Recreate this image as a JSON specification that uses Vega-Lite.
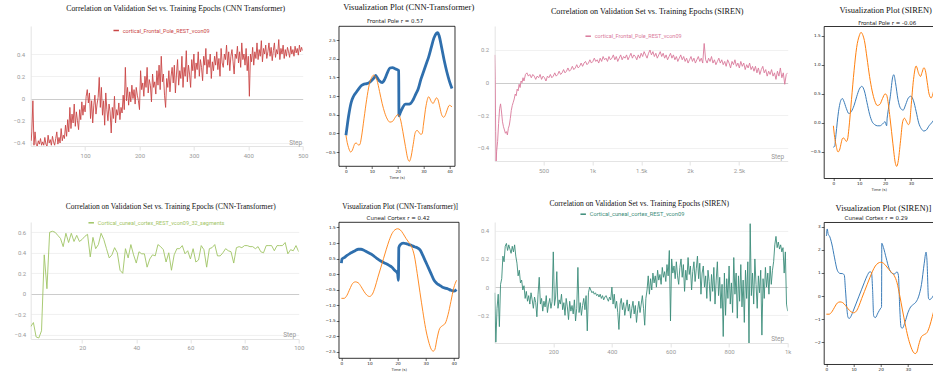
{
"$schema": "https://vega.github.io/schema/vega-lite/v6.json",
"padding": {"left": 12.7, "top": 2, "right": 0, "bottom": 0},
"columns": 4,
"bounds": "flush",
"align": "each",
"spacing": {"row": 44, "column": 36},
"resolve": {"scale": {"color": "independent"}, "legend": {"color": "independent"}},
"config": {
  "view": {"stroke": null},
  "font": "Roboto",
  "title": {"font": "Liberation Serif", "fontWeight": "normal", "color": "#111111", "frame": "group", "anchor": "middle"},
  "axis": {"labelFlush": false, "labelOverlap": false}
},
"datasets": {
"p1": [{"x":1,"y":-0.38},{"x":2,"y":-0.3},{"x":4,"y":-0.02},{"x":6,"y":-0.42},{"x":8,"y":-0.3},{"x":10,"y":-0.41},{"x":12,"y":-0.43},{"x":14,"y":-0.38},{"x":16,"y":-0.41},{"x":18,"y":-0.36},{"x":20,"y":-0.42},
{"x":22,"y":-0.39},{"x":24,"y":-0.42},{"x":26,"y":-0.35},{"x":28,"y":-0.41},{"x":30,"y":-0.43},{"x":32,"y":-0.33},{"x":34,"y":-0.4},{"x":36,"y":-0.37},{"x":38,"y":-0.42},{"x":40,"y":-0.34},
{"x":42,"y":-0.39},{"x":44,"y":-0.42},{"x":46,"y":-0.36},{"x":48,"y":-0.3},{"x":50,"y":-0.41},{"x":52,"y":-0.35},{"x":54,"y":-0.4},{"x":56,"y":-0.27},{"x":58,"y":-0.38},{"x":60,"y":-0.33},
{"x":62,"y":-0.36},{"x":64,"y":-0.24},{"x":66,"y":-0.34},{"x":68,"y":-0.19},{"x":70,"y":-0.3},{"x":72,"y":-0.08},{"x":74,"y":-0.27},{"x":76,"y":-0.14},{"x":78,"y":-0.22},{"x":80,"y":-0.05},
{"x":82,"y":-0.25},{"x":84,"y":-0.12},{"x":86,"y":-0.2},{"x":88,"y":-0.28},{"x":90,"y":-0.1},{"x":92,"y":-0.19},{"x":94,"y":-0.03},{"x":96,"y":-0.15},{"x":98,"y":-0.06},{"x":100,"y":-0.12},
{"x":102,"y":0.02},{"x":104,"y":0.08},{"x":106,"y":-0.04},{"x":108,"y":0.05},{"x":110,"y":-0.18},{"x":112,"y":-0.02},{"x":114,"y":-0.22},{"x":116,"y":-0.06},{"x":118,"y":0.03},{"x":120,"y":-0.14},
{"x":122,"y":-0.05},{"x":124,"y":0.01},{"x":126,"y":0.19},{"x":128,"y":-0.08},{"x":130,"y":0.1},{"x":132,"y":-0.15},{"x":134,"y":-0.02},{"x":136,"y":-0.24},{"x":138,"y":0.05},{"x":140,"y":-0.1},
{"x":142,"y":-0.2},{"x":144,"y":-0.05},{"x":146,"y":-0.12},{"x":148,"y":-0.31},{"x":150,"y":-0.08},{"x":152,"y":-0.18},{"x":154,"y":0.02},{"x":156,"y":-0.22},{"x":158,"y":-0.1},{"x":160,"y":-0.15},
{"x":162,"y":-0.04},{"x":164,"y":-0.19},{"x":166,"y":-0.08},{"x":168,"y":-0.13},{"x":170,"y":0.03},{"x":172,"y":-0.1},{"x":174,"y":0.28},{"x":176,"y":-0.02},{"x":178,"y":0.1},{"x":180,"y":-0.06},
{"x":182,"y":0.06},{"x":184,"y":-0.03},{"x":186,"y":0.12},{"x":188,"y":0.0},{"x":190,"y":0.08},{"x":192,"y":-0.05},{"x":194,"y":0.1},{"x":196,"y":0.03},{"x":198,"y":-0.02},{"x":200,"y":-0.1},
{"x":202,"y":0.25},{"x":204,"y":0.08},{"x":206,"y":0.14},{"x":208,"y":0.02},{"x":210,"y":0.2},{"x":212,"y":0.1},{"x":214,"y":0.28},{"x":216,"y":0.05},{"x":218,"y":0.17},{"x":220,"y":0.12},
{"x":222,"y":-0.03},{"x":224,"y":0.22},{"x":226,"y":0.1},{"x":228,"y":0.15},{"x":230,"y":0.04},{"x":232,"y":0.25},{"x":234,"y":0.12},{"x":236,"y":0.3},{"x":238,"y":0.08},{"x":240,"y":0.38},
{"x":242,"y":0.15},{"x":244,"y":0.22},{"x":246,"y":0.03},{"x":248,"y":-0.08},{"x":250,"y":0.18},{"x":252,"y":0.1},{"x":254,"y":0.25},{"x":256,"y":0.06},{"x":258,"y":0.2},{"x":260,"y":0.28},
{"x":262,"y":0.14},{"x":264,"y":0.3},{"x":266,"y":0.05},{"x":268,"y":0.22},{"x":270,"y":0.35},{"x":272,"y":0.12},{"x":274,"y":0.25},{"x":276,"y":0.18},{"x":278,"y":0.38},{"x":280,"y":0.1},
{"x":282,"y":0.28},{"x":284,"y":0.2},{"x":286,"y":0.43},{"x":288,"y":0.15},{"x":290,"y":0.3},{"x":292,"y":0.22},{"x":294,"y":0.1},{"x":296,"y":0.35},{"x":298,"y":0.25},{"x":300,"y":0.4},
{"x":302,"y":0.18},{"x":304,"y":0.32},{"x":306,"y":0.26},{"x":308,"y":0.42},{"x":310,"y":0.2},{"x":312,"y":0.35},{"x":314,"y":0.28},{"x":316,"y":0.16},{"x":318,"y":0.38},{"x":320,"y":0.3},
{"x":322,"y":0.45},{"x":324,"y":0.22},{"x":326,"y":0.35},{"x":328,"y":0.28},{"x":330,"y":0.4},{"x":332,"y":0.18},{"x":334,"y":0.33},{"x":336,"y":0.25},{"x":338,"y":0.38},{"x":340,"y":0.3},
{"x":342,"y":0.42},{"x":344,"y":0.26},{"x":346,"y":0.36},{"x":348,"y":0.2},{"x":350,"y":0.45},{"x":352,"y":0.32},{"x":354,"y":0.28},{"x":356,"y":0.4},{"x":358,"y":0.35},{"x":360,"y":0.48},
{"x":362,"y":0.3},{"x":364,"y":0.42},{"x":366,"y":0.25},{"x":368,"y":0.38},{"x":370,"y":0.44},{"x":372,"y":0.33},{"x":374,"y":0.22},{"x":376,"y":0.4},{"x":378,"y":0.36},{"x":380,"y":0.47},
{"x":382,"y":0.32},{"x":384,"y":0.42},{"x":386,"y":0.28},{"x":388,"y":0.5},{"x":390,"y":0.35},{"x":392,"y":0.4},{"x":394,"y":0.3},{"x":396,"y":0.45},{"x":398,"y":0.25},{"x":400,"y":0.38},
{"x":402,"y":0.02},{"x":404,"y":0.4},{"x":406,"y":0.33},{"x":408,"y":0.46},{"x":410,"y":0.3},{"x":412,"y":0.42},{"x":414,"y":0.36},{"x":416,"y":0.5},{"x":418,"y":0.35},{"x":420,"y":0.44},
{"x":422,"y":0.38},{"x":424,"y":0.52},{"x":426,"y":0.33},{"x":428,"y":0.45},{"x":430,"y":0.4},{"x":432,"y":0.48},{"x":434,"y":0.36},{"x":436,"y":0.42},{"x":438,"y":0.5},{"x":440,"y":0.38},
{"x":442,"y":0.46},{"x":444,"y":0.34},{"x":446,"y":0.43},{"x":448,"y":0.5},{"x":450,"y":0.37},{"x":452,"y":0.44},{"x":454,"y":0.4},{"x":456,"y":0.53},{"x":458,"y":0.35},{"x":460,"y":0.45},
{"x":462,"y":0.4},{"x":464,"y":0.48},{"x":466,"y":0.36},{"x":468,"y":0.44},{"x":470,"y":0.38},{"x":472,"y":0.46},{"x":474,"y":0.42},{"x":476,"y":0.37},{"x":478,"y":0.47},{"x":480,"y":0.4},
{"x":482,"y":0.44},{"x":484,"y":0.38},{"x":486,"y":0.47},{"x":488,"y":0.41},{"x":490,"y":0.45},{"x":492,"y":0.39},{"x":494,"y":0.48},{"x":496,"y":0.42},{"x":498,"y":0.46},{"x":500,"y":0.43}],
"p3": [{"x":0,"y":0.17},{"x":5,"y":0.02},{"x":10,"y":-0.3},{"x":15,"y":-0.48},{"x":20,"y":-0.42},{"x":30,"y":-0.36},{"x":40,"y":-0.25},{"x":50,"y":-0.16},{"x":60,"y":-0.13},{"x":70,"y":-0.18},{"x":80,"y":-0.24},{"x":90,"y":-0.27},{"x":100,"y":-0.29},{"x":110,"y":-0.31},{"x":120,"y":-0.3},{"x":130,"y":-0.32},{"x":140,"y":-0.28},{"x":150,"y":-0.26},{"x":160,"y":-0.22},{"x":170,"y":-0.17},{"x":180,"y":-0.14},{"x":190,"y":-0.12},{"x":200,"y":-0.1},{"x":210,"y":-0.07},{"x":220,"y":-0.08},{"x":230,"y":-0.04},{"x":240,"y":-0.05},{"x":250,"y":-0.01},{"x":260,"y":-0.03},{"x":270,"y":0.01},{"x":280,"y":0.0},{"x":290,"y":0.03},{"x":300,"y":0.01},
{"x":315,"y":0.05},{"x":330,"y":0.06},{"x":345,"y":0.04},{"x":360,"y":0.05},{"x":375,"y":0.03},{"x":390,"y":0.05},{"x":405,"y":0.04},{"x":420,"y":0.02},{"x":435,"y":0.04},{"x":450,"y":0.03},{"x":465,"y":0.05},{"x":480,"y":0.02},{"x":495,"y":0.04},{"x":510,"y":0.03},{"x":525,"y":0.01},{"x":540,"y":0.04},{"x":555,"y":0.03},{"x":570,"y":0.05},{"x":585,"y":0.03},{"x":600,"y":0.04},
{"x":615,"y":0.06},{"x":630,"y":0.04},{"x":645,"y":0.05},{"x":660,"y":0.07},{"x":675,"y":0.05},{"x":690,"y":0.06},{"x":705,"y":0.08},{"x":720,"y":0.06},{"x":735,"y":0.07},{"x":750,"y":0.09},{"x":765,"y":0.07},{"x":780,"y":0.08},{"x":795,"y":0.1},{"x":810,"y":0.08},{"x":825,"y":0.09},{"x":840,"y":0.11},{"x":855,"y":0.09},{"x":870,"y":0.1},{"x":885,"y":0.12},{"x":900,"y":0.1},
{"x":915,"y":0.12},{"x":930,"y":0.13},{"x":945,"y":0.11},{"x":960,"y":0.12},{"x":975,"y":0.14},{"x":990,"y":0.12},{"x":1005,"y":0.13},{"x":1020,"y":0.15},{"x":1035,"y":0.13},{"x":1050,"y":0.14},{"x":1065,"y":0.12},{"x":1080,"y":0.15},{"x":1095,"y":0.13},{"x":1110,"y":0.16},{"x":1125,"y":0.14},{"x":1140,"y":0.15},{"x":1155,"y":0.13},{"x":1170,"y":0.16},{"x":1185,"y":0.14},{"x":1200,"y":0.15},
{"x":1215,"y":0.17},{"x":1230,"y":0.14},{"x":1245,"y":0.16},{"x":1260,"y":0.13},{"x":1275,"y":0.15},{"x":1290,"y":0.17},{"x":1305,"y":0.14},{"x":1320,"y":0.16},{"x":1335,"y":0.15},{"x":1350,"y":0.17},{"x":1365,"y":0.14},{"x":1380,"y":0.16},{"x":1395,"y":0.18},{"x":1410,"y":0.15},{"x":1425,"y":0.17},{"x":1440,"y":0.16},{"x":1455,"y":0.14},{"x":1470,"y":0.17},{"x":1485,"y":0.15},{"x":1500,"y":0.18},
{"x":1515,"y":0.16},{"x":1530,"y":0.19},{"x":1545,"y":0.17},{"x":1560,"y":0.15},{"x":1575,"y":0.18},{"x":1590,"y":0.2},{"x":1605,"y":0.17},{"x":1620,"y":0.19},{"x":1635,"y":0.16},{"x":1650,"y":0.18},{"x":1665,"y":0.15},{"x":1680,"y":0.17},{"x":1695,"y":0.19},{"x":1710,"y":0.16},{"x":1725,"y":0.18},{"x":1740,"y":0.15},{"x":1755,"y":0.17},{"x":1770,"y":0.14},{"x":1785,"y":0.16},{"x":1800,"y":0.18},
{"x":1815,"y":0.15},{"x":1830,"y":0.17},{"x":1845,"y":0.14},{"x":1860,"y":0.16},{"x":1875,"y":0.13},{"x":1890,"y":0.15},{"x":1905,"y":0.17},{"x":1920,"y":0.14},{"x":1935,"y":0.16},{"x":1950,"y":0.13},{"x":1965,"y":0.15},{"x":1980,"y":0.12},{"x":1995,"y":0.14},{"x":2010,"y":0.16},{"x":2025,"y":0.13},{"x":2040,"y":0.15},{"x":2055,"y":0.12},{"x":2070,"y":0.14},{"x":2085,"y":0.16},{"x":2100,"y":0.13},
{"x":2115,"y":0.15},{"x":2130,"y":0.12},{"x":2145,"y":0.24},{"x":2160,"y":0.14},{"x":2175,"y":0.12},{"x":2190,"y":0.15},{"x":2205,"y":0.13},{"x":2220,"y":0.16},{"x":2235,"y":0.12},{"x":2250,"y":0.14},{"x":2265,"y":0.11},{"x":2280,"y":0.13},{"x":2295,"y":0.15},{"x":2310,"y":0.12},{"x":2325,"y":0.14},{"x":2340,"y":0.11},{"x":2355,"y":0.13},{"x":2370,"y":0.1},{"x":2385,"y":0.14},{"x":2400,"y":0.12},
{"x":2415,"y":0.09},{"x":2430,"y":0.13},{"x":2445,"y":0.11},{"x":2460,"y":0.14},{"x":2475,"y":0.1},{"x":2490,"y":0.12},{"x":2505,"y":0.09},{"x":2520,"y":0.13},{"x":2535,"y":0.1},{"x":2550,"y":0.12},{"x":2565,"y":0.08},{"x":2580,"y":0.11},{"x":2595,"y":0.09},{"x":2610,"y":0.12},{"x":2625,"y":0.08},{"x":2640,"y":0.1},{"x":2655,"y":0.07},{"x":2670,"y":0.1},{"x":2685,"y":0.06},{"x":2700,"y":0.09},
{"x":2715,"y":0.05},{"x":2730,"y":0.08},{"x":2745,"y":0.1},{"x":2760,"y":0.06},{"x":2775,"y":0.08},{"x":2790,"y":0.04},{"x":2805,"y":0.07},{"x":2820,"y":0.05},{"x":2835,"y":0.08},{"x":2850,"y":0.04},{"x":2865,"y":0.06},{"x":2880,"y":0.02},{"x":2895,"y":0.07},{"x":2910,"y":0.04},{"x":2925,"y":0.09},{"x":2940,"y":0.03},{"x":2955,"y":0.06},{"x":2970,"y":-0.01},{"x":2985,"y":0.05},{"x":3000,"y":0.06}],
"p5": [{"x":1,"y":-0.32},{"x":2,"y":-0.28},{"x":3,"y":-0.42},{"x":4,"y":-0.43},{"x":5,"y":-0.36},{"x":6,"y":0.38},{"x":7,"y":0.05},{"x":8,"y":0.6},{"x":9,"y":0.61},{"x":10,"y":0.6},{"x":11,"y":0.57},{"x":12,"y":0.54},{"x":13,"y":0.46},{"x":14,"y":0.59},{"x":15,"y":0.5},{"x":16,"y":0.59},{"x":17,"y":0.51},{"x":18,"y":0.57},{"x":19,"y":0.51},{"x":20,"y":0.53},
{"x":21,"y":0.56},{"x":22,"y":0.58},{"x":23,"y":0.36},{"x":24,"y":0.55},{"x":25,"y":0.44},{"x":26,"y":0.48},{"x":27,"y":0.59},{"x":28,"y":0.53},{"x":29,"y":0.44},{"x":30,"y":0.35},{"x":31,"y":0.38},{"x":32,"y":0.45},{"x":33,"y":0.4},{"x":34,"y":0.23},{"x":35,"y":0.2},{"x":36,"y":0.44},{"x":37,"y":0.35},{"x":38,"y":0.48},{"x":39,"y":0.38},{"x":40,"y":0.3},
{"x":41,"y":0.41},{"x":42,"y":0.39},{"x":43,"y":0.39},{"x":44,"y":0.26},{"x":45,"y":0.34},{"x":46,"y":0.38},{"x":47,"y":0.37},{"x":48,"y":0.48},{"x":49,"y":0.46},{"x":50,"y":0.43},{"x":51,"y":0.31},{"x":52,"y":0.4},{"x":53,"y":0.23},{"x":54,"y":0.38},{"x":55,"y":0.44},{"x":56,"y":0.44},{"x":57,"y":0.47},{"x":58,"y":0.39},{"x":59,"y":0.42},{"x":60,"y":0.34},
{"x":61,"y":0.44},{"x":62,"y":0.31},{"x":63,"y":0.33},{"x":64,"y":0.47},{"x":65,"y":0.43},{"x":66,"y":0.26},{"x":67,"y":0.44},{"x":68,"y":0.45},{"x":69,"y":0.48},{"x":70,"y":0.37},{"x":71,"y":0.37},{"x":72,"y":0.4},{"x":73,"y":0.44},{"x":74,"y":0.42},{"x":75,"y":0.41},{"x":76,"y":0.3},{"x":77,"y":0.45},{"x":78,"y":0.46},{"x":79,"y":0.45},{"x":80,"y":0.47},
{"x":81,"y":0.47},{"x":82,"y":0.46},{"x":83,"y":0.46},{"x":84,"y":0.44},{"x":85,"y":0.46},{"x":86,"y":0.41},{"x":87,"y":0.4},{"x":88,"y":0.47},{"x":89,"y":0.47},{"x":90,"y":0.47},{"x":91,"y":0.42},{"x":92,"y":0.47},{"x":93,"y":0.47},{"x":94,"y":0.47},{"x":95,"y":0.5},{"x":96,"y":0.39},{"x":97,"y":0.43},{"x":98,"y":0.42},{"x":99,"y":0.47},{"x":100,"y":0.41}],
"p7": [{"x":0,"y":-0.04},{"x":4,"y":-0.39},{"x":8,"y":-0.15},{"x":12,"y":-0.05},{"x":16,"y":-0.28},{"x":20,"y":0.02},{"x":24,"y":0.06},{"x":28,"y":0.22},{"x":32,"y":0.18},{"x":36,"y":0.29},{"x":40,"y":0.31},{"x":44,"y":0.26},{"x":48,"y":0.3},{"x":52,"y":0.27},{"x":56,"y":0.24},{"x":60,"y":0.29},{"x":64,"y":0.25},{"x":68,"y":0.3},{"x":72,"y":0.22},{"x":76,"y":0.17},
{"x":80,"y":0.08},{"x":84,"y":0.12},{"x":88,"y":0.03},{"x":92,"y":0.05},{"x":96,"y":-0.02},{"x":100,"y":0.01},{"x":104,"y":-0.08},{"x":108,"y":-0.03},{"x":112,"y":-0.1},{"x":116,"y":-0.06},{"x":120,"y":-0.12},{"x":124,"y":-0.04},{"x":128,"y":-0.09},{"x":132,"y":-0.15},{"x":136,"y":-0.07},{"x":140,"y":-0.11},{"x":144,"y":-0.21},{"x":148,"y":-0.05},{"x":152,"y":0.07},{"x":156,"y":-0.12},
{"x":160,"y":-0.08},{"x":164,"y":-0.17},{"x":168,"y":-0.1},{"x":172,"y":-0.14},{"x":176,"y":-0.06},{"x":180,"y":-0.18},{"x":184,"y":-0.12},{"x":188,"y":-0.08},{"x":192,"y":-0.15},{"x":196,"y":-0.1},{"x":200,"y":0.25},{"x":204,"y":-0.13},{"x":208,"y":-0.07},{"x":212,"y":0.11},{"x":216,"y":-0.15},{"x":220,"y":-0.09},{"x":224,"y":-0.12},{"x":228,"y":-0.05},{"x":232,"y":-0.16},{"x":236,"y":-0.11},
{"x":240,"y":-0.2},{"x":244,"y":-0.08},{"x":248,"y":-0.14},{"x":252,"y":-0.23},{"x":256,"y":-0.1},{"x":260,"y":-0.17},{"x":264,"y":-0.13},{"x":268,"y":-0.19},{"x":272,"y":-0.09},{"x":276,"y":-0.24},{"x":280,"y":-0.15},{"x":284,"y":0.14},{"x":288,"y":-0.18},{"x":292,"y":-0.11},{"x":296,"y":-0.2},{"x":300,"y":-0.13},{"x":304,"y":-0.08},{"x":308,"y":-0.16},{"x":312,"y":-0.06},{"x":316,"y":-0.31},
{"x":320,"y":-0.04},{"x":324,"y":0.0},{"x":328,"y":-0.02},{"x":332,"y":-0.04},{"x":336,"y":-0.03},{"x":340,"y":-0.05},{"x":344,"y":-0.04},{"x":348,"y":-0.06},{"x":352,"y":-0.05},{"x":356,"y":-0.07},{"x":360,"y":-0.05},{"x":364,"y":-0.08},{"x":368,"y":-0.06},{"x":372,"y":-0.09},{"x":376,"y":-0.07},{"x":380,"y":-0.06},{"x":384,"y":-0.08},{"x":388,"y":-0.1},{"x":392,"y":-0.07},{"x":396,"y":-0.09},
{"x":400,"y":0.0},{"x":404,"y":-0.12},{"x":408,"y":-0.05},{"x":412,"y":-0.15},{"x":416,"y":-0.1},{"x":420,"y":-0.18},{"x":424,"y":-0.3},{"x":428,"y":-0.12},{"x":432,"y":-0.08},{"x":436,"y":-0.16},{"x":440,"y":-0.11},{"x":444,"y":-0.2},{"x":448,"y":-0.14},{"x":452,"y":-0.09},{"x":456,"y":-0.17},{"x":460,"y":-0.12},{"x":464,"y":-0.22},{"x":468,"y":-0.15},{"x":472,"y":-0.1},{"x":476,"y":-0.19},
{"x":480,"y":-0.13},{"x":484,"y":-0.25},{"x":488,"y":-0.16},{"x":492,"y":-0.1},{"x":496,"y":-0.18},{"x":500,"y":-0.12},{"x":504,"y":-0.06},{"x":508,"y":-0.15},{"x":512,"y":-0.27},{"x":516,"y":-0.08},{"x":520,"y":-0.02},{"x":524,"y":0.08},{"x":528,"y":-0.05},{"x":532,"y":0.06},{"x":536,"y":-0.02},{"x":540,"y":0.1},{"x":544,"y":0.03},{"x":548,"y":0.08},{"x":552,"y":0.0},{"x":556,"y":0.12},
{"x":560,"y":0.05},{"x":564,"y":0.09},{"x":568,"y":0.02},{"x":572,"y":0.14},{"x":576,"y":0.07},{"x":580,"y":0.11},{"x":584,"y":0.04},{"x":588,"y":0.16},{"x":592,"y":0.08},{"x":596,"y":0.26},{"x":600,"y":-0.24},{"x":604,"y":0.2},{"x":608,"y":0.1},{"x":612,"y":0.15},{"x":616,"y":0.06},{"x":620,"y":0.18},{"x":624,"y":0.08},{"x":628,"y":0.02},{"x":632,"y":0.14},{"x":636,"y":0.2},
{"x":640,"y":0.07},{"x":644,"y":0.16},{"x":648,"y":-0.03},{"x":652,"y":0.12},{"x":656,"y":0.05},{"x":660,"y":0.21},{"x":664,"y":0.09},{"x":668,"y":0.15},{"x":672,"y":-0.02},{"x":676,"y":0.11},{"x":680,"y":0.18},{"x":684,"y":0.04},{"x":688,"y":0.13},{"x":692,"y":0.22},{"x":696,"y":0.06},{"x":700,"y":0.17},{"x":704,"y":-0.05},{"x":708,"y":0.1},{"x":712,"y":0.15},{"x":716,"y":0.0},
{"x":720,"y":0.08},{"x":724,"y":-0.08},{"x":728,"y":0.12},{"x":732,"y":0.04},{"x":736,"y":-0.1},{"x":740,"y":0.09},{"x":744,"y":-0.03},{"x":748,"y":0.14},{"x":752,"y":-0.12},{"x":756,"y":0.05},{"x":760,"y":0.18},{"x":764,"y":-0.06},{"x":768,"y":0.07},{"x":772,"y":-0.15},{"x":776,"y":0.02},{"x":780,"y":-0.35},{"x":784,"y":0.1},{"x":788,"y":-0.2},{"x":792,"y":0.06},{"x":796,"y":-0.08},
{"x":800,"y":0.15},{"x":804,"y":-0.12},{"x":808,"y":0.03},{"x":812,"y":-0.18},{"x":816,"y":0.21},{"x":820,"y":-0.05},{"x":824,"y":0.1},{"x":828,"y":-0.22},{"x":832,"y":0.08},{"x":836,"y":-0.1},{"x":840,"y":0.16},{"x":844,"y":-0.14},{"x":848,"y":0.05},{"x":852,"y":-0.25},{"x":856,"y":0.12},{"x":860,"y":-0.08},{"x":864,"y":0.18},{"x":868,"y":-0.4},{"x":872,"y":0.45},{"x":876,"y":-0.06},
{"x":880,"y":0.1},{"x":884,"y":-0.12},{"x":888,"y":0.2},{"x":892,"y":0.02},{"x":896,"y":-0.15},{"x":900,"y":0.08},{"x":904,"y":-0.04},{"x":908,"y":0.12},{"x":912,"y":-0.34},{"x":916,"y":0.06},{"x":920,"y":-0.08},{"x":924,"y":0.14},{"x":928,"y":0.0},{"x":932,"y":0.1},{"x":936,"y":-0.05},{"x":940,"y":0.15},{"x":944,"y":0.02},{"x":948,"y":0.12},{"x":952,"y":0.18},{"x":956,"y":0.3},
{"x":960,"y":0.36},{"x":964,"y":0.28},{"x":968,"y":0.32},{"x":972,"y":0.27},{"x":976,"y":0.3},{"x":980,"y":0.25},{"x":984,"y":0.28},{"x":988,"y":0.1},{"x":992,"y":0.25},{"x":996,"y":-0.12},{"x":1000,"y":-0.17}],
"p2b": [{"x":0,"y":-0.05},{"x":0.3,"y":0.1},{"x":1,"y":0.45},{"x":2,"y":0.82},{"x":3,"y":1.0},{"x":4,"y":1.1},{"x":5,"y":1.2},{"x":6,"y":1.28},{"x":7,"y":1.32},{"x":8,"y":1.33},{"x":9,"y":1.36},{"x":10,"y":1.42},{"x":11,"y":1.5},{"x":11.5,"y":1.55},{"x":12,"y":1.5},{"x":13,"y":1.4},{"x":14,"y":1.36},{"x":15,"y":1.45},{"x":16,"y":1.62},{"x":17,"y":1.75},{"x":18,"y":1.76},{"x":19,"y":1.73},{"x":20,"y":1.7},{"x":20.4,"y":1.68},{"x":20.5,"y":0.47},{"x":21,"y":0.55},{"x":22,"y":0.7},{"x":23,"y":0.78},{"x":24,"y":0.78},{"x":25,"y":0.8},{"x":26,"y":0.9},{"x":27,"y":1.05},{"x":28,"y":1.2},{"x":29,"y":1.45},{"x":30,"y":1.65},{"x":31,"y":1.85},{"x":32,"y":2.05},{"x":33,"y":2.3},{"x":34,"y":2.55},{"x":35,"y":2.68},{"x":35.5,"y":2.7},{"x":36,"y":2.62},{"x":37,"y":2.3},{"x":38,"y":1.95},{"x":39,"y":1.65},{"x":40,"y":1.4},{"x":41,"y":1.2}],
"fpt": [{"x":0,"y":-0.05},{"x":0.5,"y":-0.25},{"x":1,"y":-0.38},{"x":1.8,"y":-0.5},{"x":2.5,"y":-0.45},{"x":3,"y":-0.35},{"x":3.5,"y":-0.27},{"x":4,"y":-0.26},{"x":4.5,"y":-0.29},{"x":5,"y":-0.32},{"x":5.5,"y":-0.28},{"x":6,"y":-0.1},{"x":7,"y":0.4},{"x":8,"y":0.9},{"x":9,"y":1.3},{"x":10,"y":1.5},{"x":10.7,"y":1.56},{"x":11.5,"y":1.5},{"x":12,"y":1.42},{"x":13,"y":1.12},{"x":14,"y":0.8},{"x":15,"y":0.55},{"x":16,"y":0.38},{"x":17,"y":0.3},{"x":18,"y":0.32},{"x":19,"y":0.42},{"x":20,"y":0.5},{"x":20.6,"y":0.48},{"x":21,"y":0.4},{"x":22,"y":0.05},{"x":23,"y":-0.35},{"x":24,"y":-0.7},{"x":24.5,"y":-0.75},{"x":25,"y":-0.68},{"x":26,"y":-0.3},{"x":26.8,"y":0.02},{"x":27.5,"y":0.08},{"x":28.3,"y":0.02},{"x":29,"y":-0.03},{"x":29.5,"y":0.0},{"x":30,"y":0.25},{"x":31,"y":0.75},{"x":32,"y":0.98},{"x":33,"y":0.85},{"x":33.7,"y":0.8},{"x":34.3,"y":0.87},{"x":35,"y":0.95},{"x":35.6,"y":0.9},{"x":36.3,"y":0.7},{"x":37,"y":0.5},{"x":37.8,"y":0.43},{"x":38.5,"y":0.5},{"x":39,"y":0.6},{"x":40,"y":0.75},{"x":41,"y":0.71}],
"p4b": [{"x":0,"y":-0.42},{"x":0.5,"y":-0.4},{"x":1,"y":-0.2},{"x":2,"y":0.2},{"x":3,"y":0.4},{"x":3.5,"y":0.42},{"x":4,"y":0.38},{"x":5,"y":0.25},{"x":6,"y":0.16},{"x":7,"y":0.2},{"x":8,"y":0.3},{"x":9,"y":0.45},{"x":10,"y":0.58},{"x":11,"y":0.63},{"x":12,"y":0.55},{"x":13,"y":0.35},{"x":14,"y":0.15},{"x":15,"y":0.02},{"x":16,"y":-0.03},{"x":17,"y":-0.05},{"x":18,"y":-0.05},{"x":19,"y":-0.02},{"x":20,"y":0.02},{"x":20.6,"y":-0.05},{"x":20.8,"y":0.08},{"x":21,"y":0.15},{"x":22,"y":0.45},{"x":23,"y":0.8},{"x":23.4,"y":0.83},{"x":24,"y":0.7},{"x":25,"y":0.4},{"x":26,"y":0.25},{"x":27,"y":0.22},{"x":28,"y":0.32},{"x":29,"y":0.43},{"x":30,"y":0.46},{"x":31,"y":0.38},{"x":32,"y":0.2},{"x":33,"y":0.0},{"x":34,"y":-0.1},{"x":35,"y":-0.14},{"x":36,"y":-0.12},{"x":37,"y":-0.05},{"x":38,"y":0.0},{"x":39,"y":0.06},{"x":40,"y":0.1}],
"p6b": [{"x":0,"y":0.35},{"x":0.2,"y":0.48},{"x":1,"y":0.53},{"x":2,"y":0.6},{"x":3,"y":0.66},{"x":4,"y":0.71},{"x":5,"y":0.76},{"x":6,"y":0.8},{"x":7,"y":0.8},{"x":8,"y":0.77},{"x":9,"y":0.72},{"x":10,"y":0.67},{"x":11,"y":0.62},{"x":12,"y":0.55},{"x":13,"y":0.48},{"x":14,"y":0.42},{"x":15,"y":0.37},{"x":16,"y":0.33},{"x":17,"y":0.28},{"x":18,"y":0.22},{"x":19,"y":0.12},{"x":20,"y":0.02},{"x":20.3,"y":-0.2},{"x":20.45,"y":0.85},{"x":21,"y":0.95},{"x":22,"y":1.0},{"x":23,"y":0.98},{"x":24,"y":0.95},{"x":25,"y":0.92},{"x":26,"y":0.88},{"x":27,"y":0.85},{"x":28,"y":0.78},{"x":29,"y":0.6},{"x":30,"y":0.4},{"x":31,"y":0.2},{"x":32,"y":0.0},{"x":33,"y":-0.2},{"x":34,"y":-0.3},{"x":35,"y":-0.36},{"x":36,"y":-0.42},{"x":37,"y":-0.45},{"x":38,"y":-0.48},{"x":39,"y":-0.52},{"x":40,"y":-0.55},{"x":41,"y":-0.5}],
"cct": [{"x":0,"y":-0.78},{"x":1,"y":-0.78},{"x":2,"y":-0.68},{"x":3,"y":-0.48},{"x":4,"y":-0.3},{"x":5,"y":-0.25},{"x":6,"y":-0.28},{"x":7,"y":-0.4},{"x":8,"y":-0.55},{"x":9,"y":-0.67},{"x":10,"y":-0.72},{"x":11,"y":-0.65},{"x":12,"y":-0.42},{"x":13,"y":-0.1},{"x":14,"y":0.2},{"x":15,"y":0.5},{"x":16,"y":0.8},{"x":17,"y":1.08},{"x":18,"y":1.3},{"x":19,"y":1.42},{"x":20,"y":1.46},{"x":21,"y":1.42},{"x":22,"y":1.3},{"x":23,"y":1.15},{"x":24,"y":1.02},{"x":25,"y":0.88},{"x":26,"y":0.58},{"x":27,"y":0.02},{"x":28,"y":-0.6},{"x":29,"y":-1.2},{"x":30,"y":-1.75},{"x":31,"y":-2.15},{"x":32,"y":-2.42},{"x":32.7,"y":-2.48},{"x":33.3,"y":-2.42},{"x":34,"y":-2.1},{"x":35,"y":-1.75},{"x":36,"y":-1.66},{"x":37,"y":-1.58},{"x":38,"y":-1.3},{"x":39,"y":-0.88},{"x":40,"y":-0.45},{"x":41,"y":-0.2}],
"p8b": [{"x":0,"y":2.6},{"x":0.3,"y":2.9},{"x":0.7,"y":2.65},{"x":1,"y":2.62},{"x":2,"y":2.25},{"x":3,"y":1.65},{"x":4,"y":1.12},{"x":5,"y":0.98},{"x":6,"y":0.97},{"x":6.6,"y":0.9},{"x":7,"y":0.3},{"x":7.5,"y":-0.5},{"x":8,"y":-0.93},{"x":8.5,"y":-0.96},{"x":9,"y":-0.88},{"x":10,"y":-0.6},{"x":11,"y":-0.3},{"x":12,"y":0.0},{"x":13,"y":0.3},{"x":14,"y":0.6},{"x":15,"y":0.88},{"x":16,"y":1.05},{"x":16.6,"y":1.02},{"x":17,"y":0.3},{"x":17.4,"y":-0.85},{"x":18,"y":-0.93},{"x":19,"y":-0.72},{"x":20,"y":-0.52},{"x":20.3,"y":-0.48},{"x":20.4,"y":2.28},{"x":21,"y":2.1},{"x":22,"y":1.65},{"x":23,"y":1.22},{"x":24,"y":1.0},{"x":25,"y":0.95},{"x":26,"y":1.05},{"x":26.5,"y":0.9},{"x":27,"y":-0.5},{"x":27.5,"y":-1.35},{"x":28,"y":-1.38},{"x":29,"y":-1.1},{"x":30,"y":-0.72},{"x":31,"y":-0.47},{"x":32,"y":-0.36},{"x":33,"y":-0.25},{"x":34,"y":0.0},{"x":35,"y":0.5},{"x":36,"y":1.4},{"x":36.7,"y":1.9},{"x":37,"y":1.6},{"x":37.6,"y":-0.1},{"x":38,"y":-0.15},{"x":39,"y":-0.05},{"x":40,"y":0.15},{"x":41,"y":0.3}]
},
"concat": [
{
  "width": 272, "height": 120,
  "data": {"name": "p1"},
  "title": {"text": "Correlation on Validation Set vs. Training Epochs (CNN Transformer)", "fontSize": 7.8, "offset": 13, "dx": 9},
  "mark": {"type": "line", "strokeWidth": 0.9, "clip": true},
  "encoding": {
    "x": {"field": "x", "type": "quantitative", "scale": {"domain": [0, 500], "nice": false, "zero": false},
      "axis": {"values": [100,200,300,400,500], "grid": false, "domainColor": "#e4e4e4", "tickColor": "#e4e4e4", "tickSize": 4, "labelFont": "Roboto", "labelFontSize": 6, "labelColor": "#999999", "labelPadding": 2, "title": "Step", "titleFont": "Roboto", "titleFontSize": 6.5, "titleFontWeight": "normal", "titleColor": "#999999", "titleAlign": "right", "titleBaseline": "bottom", "titleX": 271, "titleY": -1}},
    "y": {"field": "y", "type": "quantitative", "scale": {"domain": [-0.427, 0.652], "nice": false, "zero": false},
      "axis": {"values": [-0.4,-0.2,0,0.2,0.4], "grid": true, "gridColor": {"condition": {"test": "datum.value === 0", "value": "#cccccc"}, "value": "#eeeeee"}, "gridWidth": {"condition": {"test": "datum.value === 0", "value": 1.2}, "value": 0.8}, "domainColor": "#e4e4e4", "ticks": false, "labelFont": "Roboto", "labelFontSize": 6, "labelColor": "#999999", "labelPadding": 6, "labelExpr": "datum.value === 0 ? '0' : format(datum.value, '.1f')", "title": null}},
    "color": {"datum": "cortical_Frontal_Pole_REST_vcon09", "type": "nominal", "scale": {"range": ["#c94545"]},
      "legend": {"orient": "none", "legendX": 82, "legendY": 1, "title": null, "labelColor": "#c94545", "labelFont": "Roboto", "labelFontSize": 5.5, "labelOffset": 3, "symbolSize": 30, "symbolStrokeWidth": 1.5, "padding": 0}}
  }
},
{
  "width": 116, "height": 140,
  "view": {"stroke": "#000000", "strokeWidth": 0.8},
  "title": {"text": "Visualization Plot (CNN-Transformer)", "fontSize": 8.5, "offset": 7, "dx": 12},
  "resolve": {"axis": {"x": "independent", "y": "independent"}},
  "layer": [
    {"data": {"name": "p2b"}, "mark": {"type": "line", "color": "#2f6fad", "strokeWidth": 2.8, "interpolate": "monotone", "clip": true},
     "encoding": {
      "x": {"field": "x", "type": "quantitative", "scale": {"domain": [-2.8, 42.05], "nice": false, "zero": false},
        "axis": {"values": [0,10,20,30,40], "grid": false, "domain": false, "tickColor": "#000000", "tickWidth": 0.6, "tickSize": 2.5, "labelFont": "DejaVu Sans", "labelFontSize": 4.2, "labelColor": "#222222", "labelPadding": 1, "title": "Time (s)", "titleFont": "DejaVu Sans", "titleFontSize": 3.8, "titleFontWeight": "normal", "titleColor": "#222222", "titlePadding": 1.5}},
      "y": {"field": "y", "type": "quantitative", "scale": {"domain": [-0.875, 2.875], "nice": false, "zero": false},
        "axis": {"values": [-0.5,0,0.5,1,1.5,2,2.5], "labelOverlap": false, "grid": false, "domain": false, "tickColor": "#000000", "tickWidth": 0.6, "tickSize": 2.5, "labelFont": "DejaVu Sans", "labelFontSize": 4.2, "labelColor": "#222222", "labelPadding": 1, "labelExpr": "replace(format(datum.value, '.1f'), '-', '−')", "title": null}}
     }},
    {"data": {"name": "fpt"}, "mark": {"type": "line", "color": "#ff7f0e", "strokeWidth": 0.9, "interpolate": "monotone", "clip": true},
     "encoding": {
      "x": {"field": "x", "type": "quantitative",
        "axis": {"orient": "top", "labels": false, "ticks": false, "domain": false, "grid": false, "title": "Frontal Pole r = 0.57", "titleFont": "DejaVu Sans", "titleFontSize": 5.5, "titleFontWeight": "normal", "titleColor": "#222222", "titleX": 56, "titleY": -6, "titleAlign": "center", "titleBaseline": "middle"}},
      "y": {"field": "y", "type": "quantitative", "axis": null}
     }}
  ]
},
{
  "width": 293, "height": 135,
  "data": {"name": "p3"},
  "title": {"text": "Correlation on Validation Set vs. Training Epochs (SIREN)", "fontSize": 8.15, "offset": 9.5, "dx": 6},
  "mark": {"type": "line", "strokeWidth": 0.9, "clip": true},
  "encoding": {
    "x": {"field": "x", "type": "quantitative", "scale": {"domain": [0, 3000], "nice": false, "zero": false},
      "axis": {"values": [500,1000,1500,2000,2500], "labelExpr": "datum.value >= 1000 ? (datum.value / 1000) + 'k' : datum.value + ''", "grid": false, "domainColor": "#e4e4e4", "tickColor": "#e4e4e4", "tickSize": 4, "labelFont": "Roboto", "labelFontSize": 6, "labelColor": "#999999", "labelPadding": 2, "title": "Step", "titleFont": "Roboto", "titleFontSize": 6.5, "titleFontWeight": "normal", "titleColor": "#999999", "titleAlign": "right", "titleBaseline": "bottom", "titleX": 289, "titleY": -2}},
    "y": {"field": "y", "type": "quantitative", "scale": {"domain": [-0.48, 0.347], "nice": false, "zero": false},
      "axis": {"values": [-0.4,-0.2,0,0.2], "grid": true, "gridColor": {"condition": {"test": "datum.value === 0", "value": "#cccccc"}, "value": "#eeeeee"}, "gridWidth": {"condition": {"test": "datum.value === 0", "value": 1.2}, "value": 0.8}, "domainColor": "#e4e4e4", "ticks": false, "labelFont": "Roboto", "labelFontSize": 6, "labelColor": "#999999", "labelPadding": 6, "labelExpr": "datum.value === 0 ? '0' : format(datum.value, '.1f')", "title": null}},
    "color": {"datum": "cortical_Frontal_Pole_REST_vcon09", "type": "nominal", "scale": {"range": ["#d9799b"]},
      "legend": {"orient": "none", "legendX": 90, "legendY": 6.7, "title": null, "labelColor": "#d9799b", "labelFont": "Roboto", "labelFontSize": 5.5, "labelOffset": 3, "symbolSize": 30, "symbolStrokeWidth": 1.5, "padding": 0}}
  }
},
{
  "width": 110, "height": 152,
  "title": {"text": "Visualization Plot (SIREN)", "fontSize": 8.45, "offset": 5.5, "dx": 7},
  "resolve": {"axis": {"x": "independent", "y": "independent"}},
  "layer": [
    {"data": {"name": "p4b"}, "mark": {"type": "line", "color": "#3a7bb8", "strokeWidth": 1, "interpolate": "monotone", "clip": true},
     "encoding": {
      "x": {"field": "x", "type": "quantitative", "scale": {"domain": [-3.75, 38.8], "nice": false, "zero": false},
        "axis": {"values": [0,10,20,30], "grid": false, "domain": true, "domainColor": "#000000", "domainWidth": 0.8, "tickColor": "#000000", "tickWidth": 0.6, "tickSize": 2.5, "labelFont": "DejaVu Sans", "labelFontSize": 4.2, "labelColor": "#222222", "labelPadding": 1, "title": "Time (s)", "titleFont": "DejaVu Sans", "titleFontSize": 3.8, "titleFontWeight": "normal", "titleColor": "#222222", "titlePadding": 1.5}},
      "y": {"field": "y", "type": "quantitative", "scale": {"domain": [-0.95, 1.67], "nice": false, "zero": false},
        "axis": {"values": [-0.5,0,0.5,1,1.5], "labelOverlap": false, "grid": false, "domain": true, "domainColor": "#000000", "domainWidth": 0.8, "tickColor": "#000000", "tickWidth": 0.6, "tickSize": 2.5, "labelFont": "DejaVu Sans", "labelFontSize": 4.2, "labelColor": "#222222", "labelPadding": 1, "labelExpr": "replace(format(datum.value, '.1f'), '-', '−')", "title": null}}
     }},
    {"data": {"name": "fpt"}, "mark": {"type": "line", "color": "#ff7f0e", "strokeWidth": 1, "interpolate": "monotone", "clip": true},
     "encoding": {
      "x": {"field": "x", "type": "quantitative",
        "axis": {"orient": "top", "labels": false, "ticks": false, "domain": true, "domainColor": "#000000", "domainWidth": 0.8, "grid": false, "title": "Frontal Pole r = -0.06", "titleFont": "DejaVu Sans", "titleFontSize": 5.5, "titleFontWeight": "normal", "titleColor": "#222222", "titleX": 63, "titleY": -4, "titleAlign": "center", "titleBaseline": "middle"}},
      "y": {"field": "y", "type": "quantitative", "axis": null}
     }}
  ]
},
{
  "width": 268, "height": 117,
  "data": {"name": "p5"},
  "title": {"text": "Correlation on Validation Set vs. Training Epochs (CNN-Transformer)", "fontSize": 7.45, "offset": 8.5, "dx": 6},
  "mark": {"type": "line", "strokeWidth": 0.9, "clip": true},
  "encoding": {
    "x": {"field": "x", "type": "quantitative", "scale": {"domain": [1, 100], "nice": false, "zero": false},
      "axis": {"values": [20,40,60,80,100], "grid": false, "domainColor": "#e4e4e4", "tickColor": "#e4e4e4", "tickSize": 4, "labelFont": "Roboto", "labelFontSize": 6, "labelColor": "#999999", "labelPadding": 2, "title": "Step", "titleFont": "Roboto", "titleFontSize": 6.5, "titleFontWeight": "normal", "titleColor": "#999999", "titleAlign": "right", "titleBaseline": "bottom", "titleX": 265, "titleY": -1.5}},
    "y": {"field": "y", "type": "quantitative", "scale": {"domain": [-0.44, 0.7], "nice": false, "zero": false},
      "axis": {"values": [-0.4,-0.2,0,0.2,0.4,0.6], "grid": true, "gridColor": {"condition": {"test": "datum.value === 0", "value": "#cccccc"}, "value": "#eeeeee"}, "gridWidth": {"condition": {"test": "datum.value === 0", "value": 1.2}, "value": 0.8}, "domainColor": "#e4e4e4", "ticks": false, "labelFont": "Roboto", "labelFontSize": 6, "labelColor": "#999999", "labelPadding": 5, "labelExpr": "datum.value === 0 ? '0' : format(datum.value, '.1f')", "title": null}},
    "color": {"datum": "Cortical_cuneal_cortex_REST_vcon09_32_segments", "type": "nominal", "scale": {"range": ["#9fc464"]},
      "legend": {"orient": "none", "legendX": 57, "legendY": -2.7, "title": null, "labelColor": "#9fc464", "labelFont": "Roboto", "labelFontSize": 5.5, "labelOffset": 3, "symbolSize": 30, "symbolStrokeWidth": 1.5, "padding": 0, "labelLimit": 300}}
  }
},
{
  "width": 120, "height": 136,
  "view": {"stroke": "#000000", "strokeWidth": 0.8},
  "title": {"text": "Visualization Plot (CNN-Transformer)]", "fontSize": 7.35, "offset": 6, "dx": 1.5},
  "resolve": {"axis": {"x": "independent", "y": "independent"}},
  "layer": [
    {"data": {"name": "p6b"}, "mark": {"type": "line", "color": "#2f6fad", "strokeWidth": 2.8, "interpolate": "monotone", "clip": true},
     "encoding": {
      "x": {"field": "x", "type": "quantitative", "scale": {"domain": [-0.96, 41.77], "nice": false, "zero": false},
        "axis": {"values": [0,10,20,30,40], "grid": false, "domain": false, "tickColor": "#000000", "tickWidth": 0.6, "tickSize": 2.5, "labelFont": "DejaVu Sans", "labelFontSize": 4.2, "labelColor": "#222222", "labelPadding": 1, "title": "Time (s)", "titleFont": "DejaVu Sans", "titleFontSize": 3.8, "titleFontWeight": "normal", "titleColor": "#222222", "titlePadding": 1.5}},
      "y": {"field": "y", "type": "quantitative", "scale": {"domain": [-2.7, 1.677], "nice": false, "zero": false},
        "axis": {"values": [-2.5,-2,-1.5,-1,-0.5,0,0.5,1,1.5], "labelOverlap": false, "grid": false, "domain": false, "tickColor": "#000000", "tickWidth": 0.6, "tickSize": 2.5, "labelFont": "DejaVu Sans", "labelFontSize": 4.2, "labelColor": "#222222", "labelPadding": 1, "labelExpr": "replace(format(datum.value, '.1f'), '-', '−')", "title": null}}
     }},
    {"data": {"name": "cct"}, "mark": {"type": "line", "color": "#ff7f0e", "strokeWidth": 0.9, "interpolate": "monotone", "clip": true},
     "encoding": {
      "x": {"field": "x", "type": "quantitative",
        "axis": {"orient": "top", "labels": false, "ticks": false, "domain": false, "grid": false, "title": "Cuneal Cortex r = 0.42", "titleFont": "DejaVu Sans", "titleFontSize": 5.5, "titleFontWeight": "normal", "titleColor": "#222222", "titleX": 59, "titleY": -4, "titleAlign": "center", "titleBaseline": "middle"}},
      "y": {"field": "y", "type": "quantitative", "axis": null}
     }}
  ]
},
{
  "width": 293, "height": 121,
  "data": {"name": "p7"},
  "title": {"text": "Correlation on Validation Set vs. Training Epochs (SIREN)", "fontSize": 7.6, "offset": 3.5, "dx": -2},
  "mark": {"type": "line", "strokeWidth": 0.9, "clip": true},
  "encoding": {
    "x": {"field": "x", "type": "quantitative", "scale": {"domain": [0, 1000], "nice": false, "zero": false},
      "axis": {"values": [200,400,600,800,1000], "labelExpr": "datum.value >= 1000 ? (datum.value / 1000) + 'k' : datum.value + ''", "grid": false, "domainColor": "#e4e4e4", "tickColor": "#e4e4e4", "tickSize": 4, "labelFont": "Roboto", "labelFontSize": 6, "labelColor": "#999999", "labelPadding": 2, "title": "Step", "titleFont": "Roboto", "titleFontSize": 6.5, "titleFontWeight": "normal", "titleColor": "#999999", "titleAlign": "right", "titleBaseline": "bottom", "titleX": 289, "titleY": -1.5}},
    "y": {"field": "y", "type": "quantitative", "scale": {"domain": [-0.396, 0.462], "nice": false, "zero": false},
      "axis": {"values": [-0.2,0,0.2,0.4], "grid": true, "gridColor": {"condition": {"test": "datum.value === 0", "value": "#cccccc"}, "value": "#eeeeee"}, "gridWidth": {"condition": {"test": "datum.value === 0", "value": 1.2}, "value": 0.8}, "domainColor": "#e4e4e4", "ticks": false, "labelFont": "Roboto", "labelFontSize": 6, "labelColor": "#999999", "labelPadding": 6, "labelExpr": "datum.value === 0 ? '0' : format(datum.value, '.1f')", "title": null}},
    "color": {"datum": "Cortical_cuneal_cortex_REST_vcon09", "type": "nominal", "scale": {"range": ["#3b8c79"]},
      "legend": {"orient": "none", "legendX": 85, "legendY": -11.3, "title": null, "labelColor": "#3b8c79", "labelFont": "Roboto", "labelFontSize": 5.7, "labelOffset": 3, "symbolSize": 30, "symbolStrokeWidth": 1.5, "padding": 0}}
  }
},
{
  "width": 110, "height": 142,
  "title": {"text": "Visualization Plot (SIREN)]", "fontSize": 8.5, "offset": 3.3, "dx": 4.7},
  "resolve": {"axis": {"x": "independent", "y": "independent"}},
  "layer": [
    {"data": {"name": "p8b"}, "mark": {"type": "line", "color": "#3a7bb8", "strokeWidth": 1, "interpolate": "monotone", "clip": true},
     "encoding": {
      "x": {"field": "x", "type": "quantitative", "scale": {"domain": [-1, 39.5], "nice": false, "zero": false},
        "axis": {"values": [0,10,20,30], "grid": false, "domain": true, "domainColor": "#000000", "domainWidth": 0.8, "tickColor": "#000000", "tickWidth": 0.6, "tickSize": 2.5, "labelFont": "DejaVu Sans", "labelFontSize": 4.2, "labelColor": "#222222", "labelPadding": 1, "title": null}},
      "y": {"field": "y", "type": "quantitative", "scale": {"domain": [-2.93, 3.2], "nice": false, "zero": false},
        "axis": {"values": [-2,-1,0,1,2,3], "labelOverlap": false, "grid": false, "domain": true, "domainColor": "#000000", "domainWidth": 0.8, "tickColor": "#000000", "tickWidth": 0.6, "tickSize": 2.5, "labelFont": "DejaVu Sans", "labelFontSize": 4.2, "labelColor": "#222222", "labelPadding": 1, "labelExpr": "replace(format(datum.value, 'd'), '-', '−')", "title": null}}
     }},
    {"data": {"name": "cct"}, "mark": {"type": "line", "color": "#ff7f0e", "strokeWidth": 1, "interpolate": "monotone", "clip": true},
     "encoding": {
      "x": {"field": "x", "type": "quantitative",
        "axis": {"orient": "top", "labels": false, "ticks": false, "domain": true, "domainColor": "#000000", "domainWidth": 0.8, "grid": false, "title": "Cuneal Cortex r = 0.29", "titleFont": "DejaVu Sans", "titleFontSize": 5.5, "titleFontWeight": "normal", "titleColor": "#222222", "titleX": 52, "titleY": -4, "titleAlign": "center", "titleBaseline": "middle"}},
      "y": {"field": "y", "type": "quantitative", "axis": null}
     }}
  ]
}
]
}
